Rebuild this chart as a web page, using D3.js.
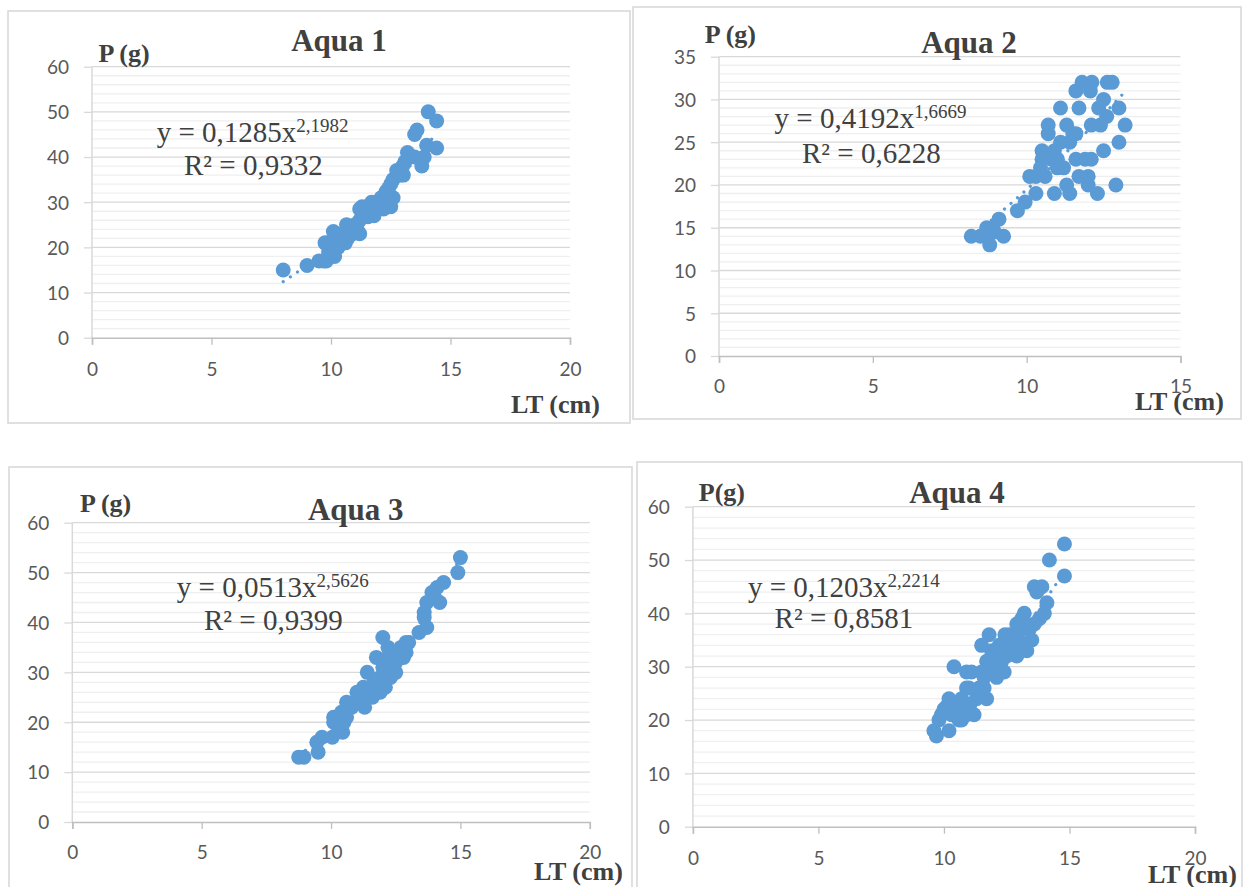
<!DOCTYPE html>
<html><head><meta charset="utf-8">
<script src="https://cdn.jsdelivr.net/npm/d3@7"></script>
<style>body{margin:0;background:#fff}svg{display:block}</style>
</head><body><svg id="c" width="1246" height="887"></svg>
<script>
// ---------- data ----------
const titles = ["Aqua 1", "Aqua 2", "Aqua 3", "Aqua 4"];
const yAxisTitles = ["P (g)", "P (g)", "P (g)", "P(g)"];
const xAxisTitle = "LT (cm)";
const xTicks20 = [0, 5, 10, 15, 20];
const xTicks15 = [0, 5, 10, 15];
const yTicks60 = [0, 10, 20, 30, 40, 50, 60];
const yTicks35 = [0, 5, 10, 15, 20, 25, 30, 35];
const coefA = [0.1285, 0.4192, 0.0513, 0.1203];
const coefB = [2.1982, 1.6669, 2.5626, 2.2214];
const rSquared = [0.9332, 0.6228, 0.9399, 0.8581];

const aqua1 = [[8,15],[9,16],[9.5,17],[9.7,17],[9.8,17],[9.9,18],[10.15,18],[9.9,19],[9.75,21],[10,20],[10,21],[10.1,22],[10.1,23.5],[10.3,20],[10.3,21],[10.4,22],[10.6,21],[10.5,23],[10.7,22],[10.65,25],[10.8,24],[10.9,23],[11,24],[11,25],[11.1,24],[11.2,23],[11.2,26],[11.2,28.5],[11.3,29],[11.4,27],[11.5,29],[11.55,26.8],[11.6,28.5],[11.7,28],[11.7,30],[11.9,30],[11.8,27],[12,29],[12,30],[12.1,31],[12.2,28.5],[12.2,30],[12.3,30],[12.3,32.3],[12.4,31],[12.4,33],[12.5,29],[12.6,31],[12.5,34],[12.6,35],[12.75,37],[12.9,36],[13.03,36],[13,38],[13.1,39],[13.2,41],[13.5,40],[13.5,45],[13.6,46],[13.8,38],[13.9,40],[14,42.6],[14.07,50],[14.42,48],[14.42,42]];
const aqua2 = [[8.2,14],[8.5,14],[8.7,14],[8.8,13],[8.7,15],[8.9,15],[9.1,16],[9.25,14],[8.95,14.5],[9.7,17],[9.95,18],[10.1,21],[10.3,21],[10.3,19],[10.45,22],[10.5,23],[10.5,24],[10.6,21],[10.7,26],[10.7,27],[10.8,23],[10.9,24],[10.9,19],[11,22],[11,23],[11.1,25],[11.1,29],[11.2,22],[11.3,27],[11.4,19],[11.4,25],[11.3,20],[11.5,26],[11.6,26],[11.6,23],[11.6,31],[11.7,29],[11.7,21],[11.8,32],[11.9,23],[12,21],[12,20],[12.07,31],[12.1,23],[12.1,27],[12.12,32],[12.3,19],[12.34,29],[12.4,27],[12.5,24],[12.5,30],[12.6,28],[12.62,32],[12.78,32],[12.9,20],[13,25],[13,29],[13.2,27]];
const aqua3 = [[8.75,13],[8.95,13],[9.5,14],[9.45,16],[9.65,17],[10.05,17],[10.45,18],[10.3,19],[10.1,20],[10.1,21],[10.4,22],[10.5,20],[10.6,21],[10.6,24],[10.8,23],[10.9,24],[11,26],[11.1,25],[11.2,24],[11.25,27],[11.3,23],[11.4,30],[11.5,26],[11.6,25],[11.65,28],[11.75,33],[11.8,27],[11.9,26],[11.9,29],[12,37],[12,31],[12.1,27],[12.2,33],[12.2,35],[12.3,29],[12.3,31],[12.4,34],[12.5,30],[12.5,32],[12.6,34],[12.7,35],[12.8,33],[12.9,34],[12.9,36],[13,36],[13.4,38],[13.6,42],[13.6,41],[13.7,39],[13.7,44],[13.9,46],[14,45],[14.1,47],[14.2,44],[14.35,48],[14.9,50],[15,53]];
const aqua4 = [[9.6,18],[9.7,17],[9.8,20],[9.9,21],[10,22],[10.2,18],[10.2,24],[10.1,22.5],[10.3,21],[10.4,30],[10.5,23],[10.6,20],[10.7,20],[10.7,24],[10.8,22],[10.9,29],[10.9,26],[10.9,21],[11,26],[11.04,23],[11.1,29],[11.2,21],[11.3,24],[11.4,26],[11.5,29],[11.5,34],[11.6,26],[11.6,28],[11.7,31],[11.7,24],[11.8,36],[11.8,29],[11.9,30],[11.9,33],[12,30],[12,32],[12.1,28],[12.2,30],[12.2,34],[12.3,31],[12.3,33],[12.4,29],[12.43,36],[12.5,32],[12.6,34],[12.6,36],[12.7,33],[12.8,35],[12.9,38],[12.9,32],[13,35],[13,37],[13.1,39],[13.2,40],[13.2,34],[13.3,33],[13.4,37],[13.5,35],[13.6,38],[13.6,45],[13.7,44],[13.8,39],[13.9,45],[14,40],[14.1,42],[14.2,50],[14.8,47],[14.8,53]];

const series = [aqua1, aqua2, aqua3, aqua4];
const xTickSets = [xTicks20, xTicks15, xTicks20, xTicks20];
const yTickSets = [yTicks60, yTicks35, yTicks60, yTicks60];
const yMinorSteps = [2, 1, 2, 2];

// ---------- layout ----------
const layout = [
  {box:[8,11,622,412],  x0:92,    x1:570,    yb:337.7, yt:66.7,  title:[339,50.7],  pt:[98.4,61.7],  lt:[511,412.7],  eq:[156.7,141.7], r2:[184,175],    xl:376},
  {box:[633,7,608,412], x0:719,   x1:1180.5, yb:356,   yt:56.7,  title:[969,53.3],  pt:[704.7,43.3], lt:[1135,410],    eq:[774.6,128.3], r2:[802,162.7],  xl:393},
  {box:[9,467,623,440], x0:72.3,  x1:589.8,  yb:822,   yt:522.7, title:[355.7,520], pt:[80,511.7],   lt:[534,880],     eq:[176.8,596.7], r2:[204,630],    xl:859},
  {box:[637,462,605,440],x0:692.9,x1:1195,   yb:826.7, yt:506.7, title:[957,503.3], pt:[698.8,500.7],lt:[1148,883],    eq:[747.9,596.7], r2:[774.6,628.3],xl:865}
];

const BLUE = "#5b9bd5";
const SERIF = "'Liberation Serif','Times New Roman',serif";
const SANS = "Lato,'Open Sans',sans-serif";
const fmt4 = v => d3.format(".4f")(v).replace(".", ",");

const svg = d3.select("#c");
svg.append("rect").attr("width",1246).attr("height",887).attr("fill","#fff");

layout.forEach((L, i) => {
  const g = svg.append("g");
  const xt = xTickSets[i], yt = yTickSets[i];
  const xMax = d3.max(xt), yMax = d3.max(yt);
  const yMajor = yt[1] - yt[0];
  const x = d3.scaleLinear().domain([0, xMax]).range([L.x0, L.x1]);
  const y = d3.scaleLinear().domain([0, yMax]).range([L.yb, L.yt]);

  g.append("rect").attr("x", L.box[0]).attr("y", L.box[1]).attr("width", L.box[2]).attr("height", L.box[3])
    .attr("fill", "none").attr("stroke", "#d9d9d9").attr("stroke-width", 1.6);

  const minorVals = d3.range(0, yMax + 1e-9, yMinorSteps[i]).map(v => +v.toFixed(4))
    .filter(v => Math.abs(v / yMajor - Math.round(v / yMajor)) > 1e-6);
  g.selectAll(".minor").data(minorVals).join("line")
    .attr("x1", x(0)).attr("x2", x(xMax)).attr("y1", d => y(d)).attr("y2", d => y(d))
    .attr("stroke", "#efefef").attr("stroke-width", 1.3);
  g.selectAll(".major").data(yt.filter(v => v > 0)).join("line")
    .attr("x1", x(0)).attr("x2", x(xMax)).attr("y1", d => y(d)).attr("y2", d => y(d))
    .attr("stroke", "#d9d9d9").attr("stroke-width", 1.3);

  const ya = g.append("g").attr("transform", `translate(${x(0)},0)`)
    .call(d3.axisLeft(y).tickValues(yt).tickSize(8).tickFormat(d3.format("d")));
  ya.select(".domain").remove();
  ya.selectAll("line").attr("stroke", "#d9d9d9").attr("stroke-width", 1.3);
  ya.selectAll("text").attr("x", -23).attr("dy", "0.36em")
    .attr("font-family", SANS).attr("font-size", 19).attr("fill", "#595959");
  g.append("line").attr("x1", x(0)).attr("x2", x(0)).attr("y1", y(yMax)).attr("y2", y(0))
    .attr("stroke", "#d9d9d9").attr("stroke-width", 1.5);

  const xa = g.append("g").attr("transform", `translate(0,${y(0)})`)
    .call(d3.axisBottom(x).tickValues(xt).tickSize(7).tickFormat(d3.format("d")));
  xa.select(".domain").attr("stroke", "#bfbfbf").attr("stroke-width", 1.6);
  xa.selectAll("line").attr("stroke", "#bfbfbf").attr("stroke-width", 1.3);
  xa.selectAll("text").attr("y", L.xl - y(0)).attr("dy", 0)
    .attr("font-family", SANS).attr("font-size", 19).attr("fill", "#595959");

  g.selectAll(".pt").data(series[i]).join("circle")
    .attr("cx", d => x(d[0])).attr("cy", d => y(d[1])).attr("r", 7.5).attr("fill", BLUE);

  const ext = d3.extent(series[i], d => d[0]);
  const tx = d3.range(0, 201).map(k => ext[0] + (ext[1] - ext[0]) * k / 200);
  const line = d3.line().x(d => x(d)).y(d => y(coefA[i] * Math.pow(d, coefB[i])));
  g.append("path").attr("d", line(tx)).attr("fill", "none").attr("stroke", BLUE)
    .attr("stroke-width", 3.2).attr("stroke-linecap", "round").attr("stroke-dasharray", "0.01 8.6");

  g.append("text").attr("x", L.title[0]).attr("y", L.title[1]).attr("text-anchor", "middle")
    .attr("font-family", SERIF).attr("font-weight", "bold").attr("font-size", 31).attr("fill", "#404040")
    .text(titles[i]);
  g.append("text").attr("x", L.pt[0]).attr("y", L.pt[1])
    .attr("font-family", SERIF).attr("font-weight", "bold").attr("font-size", 26).attr("fill", "#404040")
    .text(yAxisTitles[i]);
  g.append("text").attr("x", L.lt[0]).attr("y", L.lt[1])
    .attr("font-family", SERIF).attr("font-weight", "bold").attr("font-size", 26).attr("fill", "#404040")
    .text(xAxisTitle);

  const eq = g.append("text").attr("x", L.eq[0]).attr("y", L.eq[1])
    .attr("font-family", SERIF).attr("font-size", 29).attr("fill", "#404040");
  eq.append("tspan").text("y = " + fmt4(coefA[i]) + "x");
  eq.append("tspan").attr("dy", -10).attr("font-size", 19).text(fmt4(coefB[i]));
  g.append("text").attr("x", L.r2[0]).attr("y", L.r2[1])
    .attr("font-family", SERIF).attr("font-size", 29).attr("fill", "#404040")
    .text("R² = " + fmt4(rSquared[i]));
});
</script>
</body></html>
